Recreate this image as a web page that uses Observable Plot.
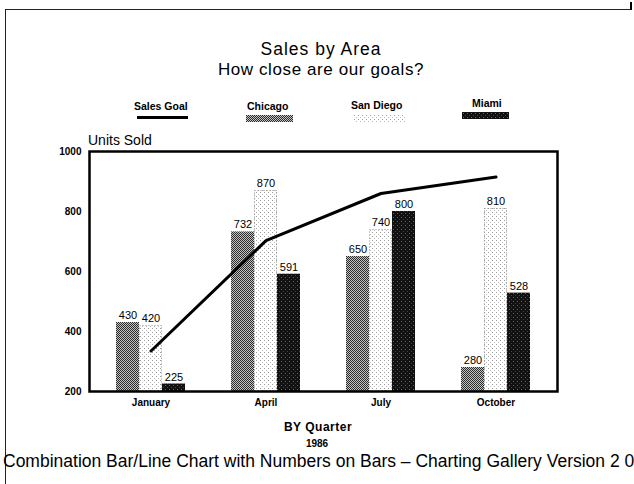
<!DOCTYPE html>
<html><head><meta charset="utf-8">
<script src="https://cdn.jsdelivr.net/npm/d3@7"></script>
<script src="https://cdn.jsdelivr.net/npm/@observablehq/plot@0.6"></script>
<style>
body{margin:0;background:#fff;font-family:"Liberation Sans",Arial,sans-serif;}
#wrap{position:relative;width:634px;height:484px;overflow:hidden;background:#fff}
.t{position:absolute;white-space:nowrap;line-height:1;color:#000;font-family:"Liberation Sans",Arial,sans-serif}
.c{transform:translateX(-50%)}
.b{font-weight:bold}
#chart g[aria-label^="x-axis"] text, #chart g[aria-label^="y-axis"] text{font-weight:bold}
</style></head><body>
<svg width="0" height="0" style="position:absolute">
 <defs>
  <pattern id="pat-chi" patternUnits="userSpaceOnUse" width="2" height="2">
   <rect width="2" height="2" fill="#c4c4c4"/>
   <rect x="0" y="0" width="1" height="1" fill="#2a2a2a"/>
   <rect x="1" y="1" width="1" height="1" fill="#2a2a2a"/>
  </pattern>
  <pattern id="pat-sd" patternUnits="userSpaceOnUse" width="4" height="4">
   <rect width="4" height="4" fill="#ffffff"/>
   <rect x="0" y="0" width="1" height="1" fill="#9a9a9a"/>
   <rect x="2" y="2" width="1" height="1" fill="#bbbbbb"/>
  </pattern>
  <pattern id="pat-mia" patternUnits="userSpaceOnUse" width="4" height="4">
   <rect width="4" height="4" fill="#111111"/>
   <rect x="1" y="1" width="1" height="1" fill="#6a6a6a"/>
   <rect x="3" y="3" width="1" height="1" fill="#444444"/>
  </pattern>
 </defs>
</svg>
<div id="wrap">
 <div id="chart" style="position:absolute;left:0;top:0"></div>
 <div style="position:absolute;left:5px;top:9px;width:625px;height:600px;border-left:1.5px solid #222;border-top:1.5px solid #222"></div>
 <div style="position:absolute;left:630px;top:2px;width:2px;height:8px;background:#000"></div>
 <div class="t c" style="left:321px;top:40.7px;font-size:17.5px;letter-spacing:1px">Sales by Area</div>
 <div class="t c" style="left:321px;top:61px;font-size:17px;letter-spacing:0.6px">How close are our goals?</div>
 <div class="t b" style="left:134px;top:101px;font-size:10.5px">Sales Goal</div>
 <div style="position:absolute;left:137px;top:116px;width:51px;height:3px;background:#000"></div>
 <div class="t b" style="left:247px;top:101px;font-size:10.5px">Chicago</div>
 <svg style="position:absolute;left:246px;top:115px" width="47" height="7"><rect width="47" height="7" fill="url(#pat-chi)"/></svg>
 <div class="t b" style="left:351px;top:100px;font-size:10.5px">San Diego</div>
 <svg style="position:absolute;left:354px;top:115px" width="52" height="7"><rect width="52" height="7" fill="url(#pat-sd)"/></svg>
 <div class="t b" style="left:472px;top:98px;font-size:10.5px">Miami</div>
 <svg style="position:absolute;left:462px;top:112px" width="47" height="7"><rect width="47" height="7" fill="url(#pat-mia)"/></svg>
 <div class="t" style="left:88px;top:133px;font-size:14px">Units Sold</div>
 <div class="t c b" style="left:318px;top:421px;font-size:12px;letter-spacing:0.5px">BY Quarter</div>
 <div class="t c b" style="left:317px;top:439px;font-size:10px">1986</div>
 <div class="t" style="left:3px;top:453px;font-size:17.5px">Combination Bar/Line Chart with Numbers on Bars – Charting Gallery Version 2 0</div>
</div>
<script>
const quarters = ["January", "April", "July", "October"];
const cities = ["Chicago", "San Diego", "Miami"];
const chicago = [430, 732, 650, 280];
const sanDiego = [420, 870, 740, 810];
const miami = [225, 591, 800, 528];
const salesGoal = [335, 703, 860, 915];
const yTicks = [200, 400, 600, 800, 1000];

const series = {"Chicago": chicago, "San Diego": sanDiego, "Miami": miami};
const slots = quarters.flatMap(q => [q + "|L", ...cities.map(c => q + "|" + c), q + "|R"]);
const rows = quarters.flatMap((q, i) => cities.map(c => ({quarter: q, city: c, key: q + "|" + c, value: series[c][i]})));
const goals = quarters.map((q, i) => ({key: q + "|San Diego", goal: salesGoal[i]}));

const chart = Plot.plot({
  width: 634,
  height: 484,
  marginTop: 151,
  marginRight: 77,
  marginBottom: 93,
  marginLeft: 89,
  style: {fontFamily: "Liberation Sans, Arial, sans-serif", fontSize: "10px", background: "transparent"},
  x: {domain: slots, padding: 0, tickSize: 0, tickPadding: 7, label: null,
      tickFormat: d => d.endsWith("|San Diego") ? d.split("|")[0] : ""},
  y: {domain: [200, 1000], ticks: yTicks, tickFormat: d => String(d), tickSize: 0, tickPadding: 8, label: null},
  color: {domain: cities, range: ["url(#pat-chi)", "url(#pat-sd)", "url(#pat-mia)"]},
  marks: [
    Plot.barY(rows, {x: "key", y1: 200, y2: "value", fill: "city", inset: 0}),
    Plot.barY(rows.filter(d => d.city === "San Diego"), {x: "key", y1: 200, y2: "value", fill: "none", stroke: "#888", strokeDasharray: "1,2", inset: 0.5}),
    Plot.text(rows, {x: "key", y: "value", text: d => String(d.value), dy: -7, fontSize: 11, fill: "#000"}),
    Plot.line(goals, {x: "key", y: "goal", stroke: "#000", strokeWidth: 3}),
    Plot.frame({stroke: "#000", strokeWidth: 2.5})
  ]
});
document.getElementById("chart").appendChild(chart);
</script>
</body></html>
